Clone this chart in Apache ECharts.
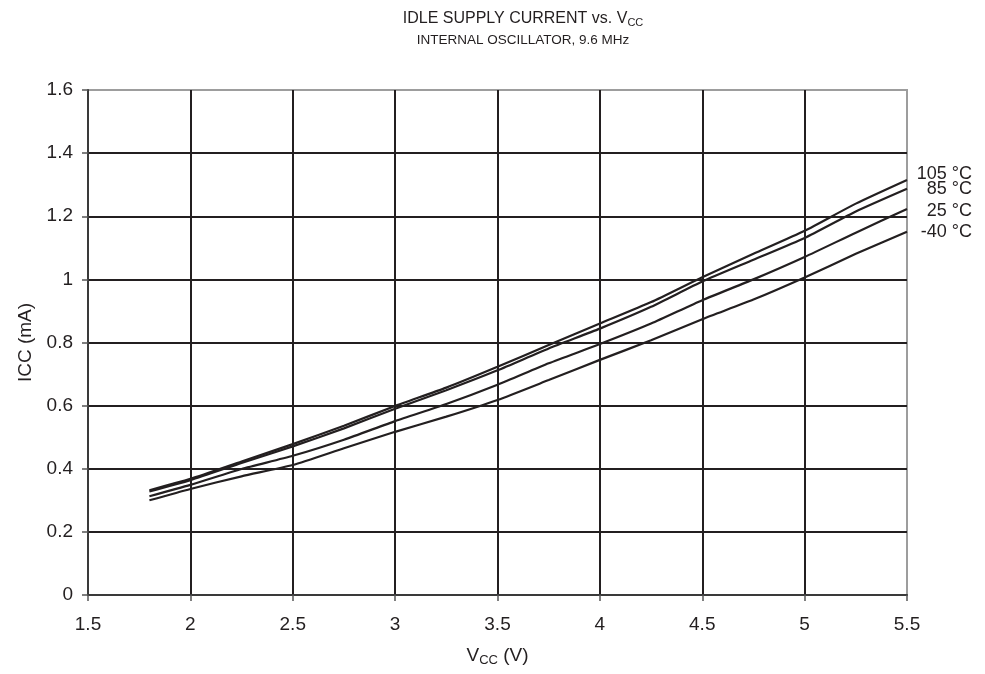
<!DOCTYPE html>
<html>
<head>
<meta charset="utf-8">
<script src="https://cdn.jsdelivr.net/npm/echarts@6/dist/echarts.min.js"></script>
<style>html,body{margin:0;padding:0;background:#fff}#c{width:985px;height:674px}</style>
</head>
<body>
<div id="c"></div>
<script>
const vcc    = [1.8,   2.0,   2.25,  2.5,   2.75,  3.0,   3.25,  3.5,   3.75,  4.0,   4.25,  4.5,   4.75,  5.0,   5.25,  5.5];
const icc105 = [0.332, 0.368, 0.423, 0.478, 0.536, 0.599, 0.657, 0.723, 0.792, 0.860, 0.928, 1.007, 1.081, 1.154, 1.240, 1.315];
const icc85  = [0.328, 0.364, 0.418, 0.471, 0.528, 0.590, 0.649, 0.712, 0.781, 0.844, 0.913, 0.993, 1.062, 1.131, 1.215, 1.287];
const icc25  = [0.313, 0.349, 0.399, 0.441, 0.492, 0.551, 0.605, 0.666, 0.734, 0.795, 0.860, 0.934, 1.000, 1.071, 1.148, 1.223];
const iccM40 = [0.300, 0.336, 0.376, 0.412, 0.465, 0.517, 0.565, 0.618, 0.681, 0.745, 0.807, 0.874, 0.936, 1.006, 1.081, 1.151];
const seriesNames = ['105 °C', '85 °C', '25 °C', '-40 °C'];
const labelOffsets = [[57, -6], [57, 0], [57, 2], [57, 0]];

const font = '"Liberation Sans", Arial, sans-serif';
const txt = '#231f20';
const all = [icc105, icc85, icc25, iccM40];

const chart = echarts.init(document.getElementById('c'), null, {renderer: 'canvas'});
chart.setOption({
  animation: false,
  backgroundColor: '#fff',
  title: {
    text: '{a|IDLE SUPPLY CURRENT vs. V}{s|CC}',
    subtext: 'INTERNAL OSCILLATOR, 9.6 MHz',
    left: 518,
    textAlign: 'center',
    top: 5,
    itemGap: 6,
    textStyle: {
      fontWeight: 'normal',
      rich: {
        a: {fontFamily: font, fontSize: 16, color: txt, fontWeight: 'normal'},
        s: {fontFamily: font, fontSize: 11, color: txt, fontWeight: 'normal', padding: [7, 0, 0, 0]}
      }
    },
    subtextStyle: {fontFamily: font, fontSize: 13.5, color: txt}
  },
  grid: {left: 88, right: 78, top: 90, bottom: 79, show: true, borderColor: '#9d9d9d', borderWidth: 2, backgroundColor: 'transparent'},
  xAxis: {
    type: 'value', min: 1.5, max: 5.5, interval: 0.5,
    name: '{a|V}{s|CC}{a| (V)}', nameLocation: 'middle', nameGap: 50,
    nameTextStyle: {rich: {
      a: {fontFamily: font, fontSize: 19, color: txt},
      s: {fontFamily: font, fontSize: 13, color: txt, padding: [9, 0, 0, 0]}
    }},
    axisLine: {show: true, lineStyle: {color: '#3a3a3a', width: 2}},
    axisTick: {show: true, length: 6, lineStyle: {color: '#555', width: 1.5}},
    axisLabel: {fontFamily: font, fontSize: 19, color: txt, margin: 20},
    splitLine: {show: true, showMinLine: false, showMaxLine: false, lineStyle: {color: txt, width: 2}}
  },
  yAxis: {
    type: 'value', min: 0, max: 1.6, interval: 0.2,
    name: 'ICC (mA)', nameLocation: 'middle', nameGap: 50,
    nameTextStyle: {fontFamily: font, fontSize: 19, color: txt},
    axisLine: {show: true, lineStyle: {color: '#3a3a3a', width: 2}},
    axisTick: {show: true, length: 6, lineStyle: {color: '#555', width: 1.5}},
    axisLabel: {fontFamily: font, fontSize: 19, color: txt, margin: 15},
    splitLine: {show: true, showMinLine: false, showMaxLine: false, lineStyle: {color: txt, width: 2}}
  },
  series: all.map((vals, i) => ({
    type: 'line',
    name: seriesNames[i],
    data: vcc.map((x, j) => [x, vals[j]]),
    showSymbol: false,
    smooth: 0.2,
    lineStyle: {color: txt, width: 2.2},
    z: 5,
    endLabel: {
      show: true,
      formatter: seriesNames[i],
      fontFamily: font, fontSize: 18, color: txt,
      align: 'right',
      offset: labelOffsets[i]
    }
  }))
});
</script>
</body>
</html>
